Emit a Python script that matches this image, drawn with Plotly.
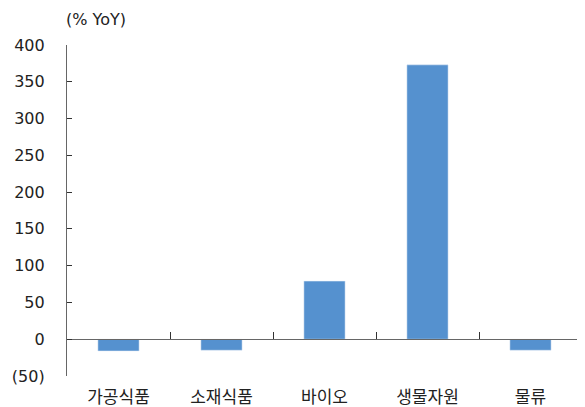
import plotly.graph_objects as go

categories = ["가공식품", "소재식품", "바이오", "생물자원", "물류"]
values = [-16, -15, 79, 373, -15]
ytick_vals = [-50, 0, 50, 100, 150, 200, 250, 300, 350, 400]
ytick_text = ["(50)", "0", "50", "100", "150", "200", "250", "300", "350", "400"]

ymin, ymax = -50, 400
zero_pos = (0 - ymin) / (ymax - ymin)

fig = go.Figure()
fig.add_trace(go.Bar(x=categories, y=values, marker_color="#5591CF",
                     width=0.4, xaxis="x", yaxis="y"))
# invisible trace to hold the zero-line axis
fig.add_trace(go.Bar(x=categories, y=[None]*len(categories), xaxis="x2", yaxis="y",
                     showlegend=False, hoverinfo="skip"))

# page body has an 8px default margin, so the figure is sized to fit the window
fig.update_layout(
    width=577, height=399,
    margin=dict(l=59, r=3, t=37, b=31, autoexpand=False),
    paper_bgcolor="white", plot_bgcolor="white",
    showlegend=False,
    font=dict(family="DejaVu Sans, Liberation Sans, sans-serif", size=16, color="#222"),
    xaxis=dict(showline=False, ticks="", showgrid=False, zeroline=False,
               tickfont=dict(family="Noto Sans CJK KR", size=17, color="#222"),
               ticklabelstandoff=9, automargin=False),
    xaxis2=dict(overlaying="x", anchor="free", position=zero_pos, side="bottom",
                showline=True, linecolor="#666", linewidth=1.2,
                ticks="inside", tickson="boundaries", ticklen=7, tickcolor="#333",
                showticklabels=False, showgrid=False, zeroline=False,
                matches="x", automargin=False),
    yaxis=dict(range=[ymin, ymax], tickvals=ytick_vals, ticktext=ytick_text,
               showline=True, linecolor="#666", linewidth=1.2,
               ticks="inside", ticklen=5, tickcolor="#333",
               showgrid=False, zeroline=False, ticklabelstandoff=18,
               tickfont=dict(size=16), automargin=False),
    annotations=[dict(text="(% YoY)", xref="paper", yref="paper", x=-0.006, y=1.0,
                      yshift=26, xanchor="left", yanchor="middle", showarrow=False,
                      font=dict(size=16, color="#222"))],
)

fig.write_html("out.html")
